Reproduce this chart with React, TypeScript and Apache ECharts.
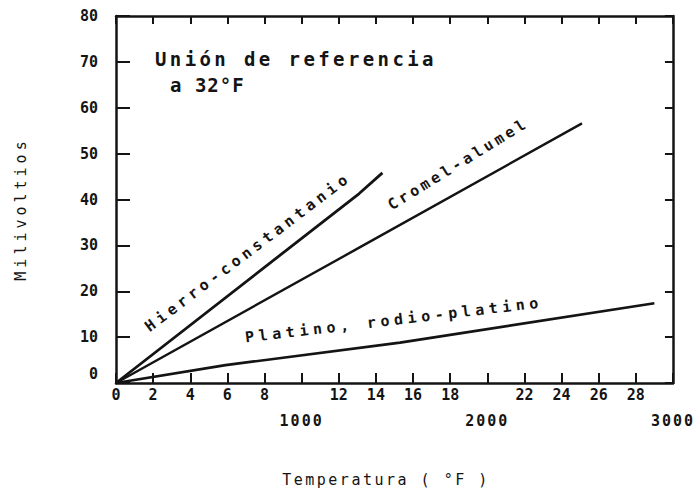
import React, { useEffect, useRef } from "react";
import * as echarts from "echarts";

// Temperatures (°F) and EMF (mV)
const hierroTemp = [0, 1310, 1435];
const hierroMv = [0, 41.3, 45.8];
const cromelTemp = [0, 1310, 2510];
const cromelMv = [0, 29.5, 56.6];
const platinoTemp = [0, 590, 1530, 2900];
const platinoMv = [0, 3.9, 8.8, 17.4];

const seriesNames = ["Hierro-constantanio", "Cromel-alumel", "Platino, rodio-platino"];
const titleLines = ["Unión de referencia", "a 32°F"];
const xAxisName = "Temperatura ( °F )";
const yAxisName = "Milivoltios";

const MONO = '"DejaVu Sans Mono", "Liberation Mono", monospace';
const INK = "#141414";

// extra letter spacing to mimic the typewriter lettering
const spacing: Record<string, number> = {
  "Unión de referencia": 3.4,
  "a 32°F": 1,
  "Hierro-constantanio": 4.3,
  "Cromel-alumel": 3.4,
  "Platino, rodio-platino": 4.6,
  "Temperatura ( °F )": 2.5,
  "Milivoltios": 4,
  "1000": 2,
  "2000": 2,
  "3000": 2,
};

const pairs = (xs: number[], ys: number[]) => xs.map((x, i) => [x, ys[i]]);

export default function App() {
  const ref = useRef<HTMLDivElement>(null);
  useEffect(() => {
    const el = ref.current!;
    const chart = echarts.init(el, undefined, { renderer: "svg" });
    const axisLine = { show: true, onZero: false, lineStyle: { color: INK, width: 2.5 } };
    const lineSeries = (name: string, xs: number[], ys: number[], w: number) => ({
      name,
      type: "line",
      xAxisIndex: 0,
      yAxisIndex: 0,
      data: pairs(xs, ys),
      showSymbol: false,
      symbol: "none",
      smooth: false,
      lineStyle: { color: INK, width: w },
      z: 5,
    });
    chart.setOption({
      animation: false,
      backgroundColor: "#ffffff",
      textStyle: { fontFamily: MONO },
      grid: { left: 116, top: 16, right: 20, bottom: 117, containLabel: false },
      xAxis: [
        {
          type: "value",
          position: "bottom",
          min: 0,
          max: 3000,
          interval: 200,
          axisLine,
          splitLine: { show: false },
          axisTick: { show: true, inside: true, length: 10, lineStyle: { color: INK, width: 2 } },
          axisLabel: {
            margin: 4,
            color: INK,
            fontFamily: MONO,
            fontWeight: "bold",
            fontSize: 15,
            formatter: (v: number) => (v === 0 ? "0" : v % 1000 === 0 ? "" : String(v / 100)),
          },
        },
        {
          type: "value",
          position: "top",
          min: 0,
          max: 3000,
          interval: 200,
          axisLine,
          splitLine: { show: false },
          axisTick: { show: true, inside: true, length: 8, lineStyle: { color: INK, width: 2 } },
          axisLabel: { show: false },
        },
        {
          type: "value",
          position: "bottom",
          min: 0,
          max: 3000,
          interval: 1000,
          axisLine: { show: false, onZero: false },
          splitLine: { show: false },
          axisTick: { show: false },
          axisLabel: {
            margin: 30,
            color: INK,
            fontFamily: MONO,
            fontWeight: "bold",
            fontSize: 15,
            formatter: (v: number) => (v === 0 ? "" : String(v)),
          },
        },
      ],
      yAxis: [
        {
          type: "value",
          position: "left",
          min: 0,
          max: 80,
          interval: 10,
          axisLine,
          splitLine: { show: false },
          axisTick: { show: true, inside: true, length: 14, lineStyle: { color: INK, width: 2 } },
          axisLabel: {
            margin: 18,
            color: INK,
            fontFamily: MONO,
            fontWeight: "bold",
            fontSize: 15,
            formatter: (v: number) => (v === 0 ? "{z|0}" : String(v)),
            rich: {
              z: { padding: [0, 0, 18, 0], fontFamily: MONO, fontWeight: "bold", fontSize: 15, color: INK },
            },
          },
        },
        {
          type: "value",
          position: "right",
          min: 0,
          max: 80,
          interval: 10,
          axisLine,
          splitLine: { show: false },
          axisTick: { show: true, inside: true, length: 8, lineStyle: { color: INK, width: 2 } },
          axisLabel: { show: false },
        },
      ],
      series: [
        lineSeries(seriesNames[0], hierroTemp, hierroMv, 2.8),
        lineSeries(seriesNames[1], cromelTemp, cromelMv, 2.4),
        lineSeries(seriesNames[2], platinoTemp, platinoMv, 2.6),
      ],
      graphic: [
        {
          type: "text",
          x: 155,
          y: 59,
          style: { text: titleLines[0], font: `bold 19px ${MONO}`, fill: INK, align: "left", verticalAlign: "middle" },
        },
        {
          type: "text",
          x: 170,
          y: 85,
          style: { text: titleLines[1], font: `bold 19px ${MONO}`, fill: INK, align: "left", verticalAlign: "middle" },
        },
        {
          type: "text",
          x: 248,
          y: 252,
          rotation: (37 * Math.PI) / 180,
          style: { text: seriesNames[0], font: `bold 15px ${MONO}`, fill: INK, align: "center", verticalAlign: "middle" },
        },
        {
          type: "text",
          x: 458,
          y: 164,
          rotation: (31.5 * Math.PI) / 180,
          style: { text: seriesNames[1], font: `bold 15px ${MONO}`, fill: INK, align: "center", verticalAlign: "middle" },
        },
        {
          type: "text",
          x: 394,
          y: 320,
          rotation: (6.7 * Math.PI) / 180,
          style: { text: seriesNames[2], font: `bold 15px ${MONO}`, fill: INK, align: "center", verticalAlign: "middle" },
        },
        {
          type: "text",
          x: 386,
          y: 480,
          style: { text: xAxisName, font: `15px ${MONO}`, fill: INK, align: "center", verticalAlign: "middle" },
        },
        {
          type: "text",
          x: 21,
          y: 209,
          rotation: Math.PI / 2,
          style: { text: yAxisName, font: `15px ${MONO}`, fill: INK, align: "center", verticalAlign: "middle" },
        },
      ],
    });
    const applySpacing = () => {
      el.querySelectorAll("text").forEach((t) => {
        const s = spacing[(t.textContent || "").trim()];
        if (s !== undefined) t.setAttribute("letter-spacing", String(s));
      });
    };
    applySpacing();
    chart.on("finished", applySpacing);
    const raf = requestAnimationFrame(applySpacing);
    return () => {
      cancelAnimationFrame(raf);
      chart.dispose();
    };
  }, []);
  return <div ref={ref} style={{ width: 694, height: 500, position: "absolute", left: 0, top: 0 }} />;
}
